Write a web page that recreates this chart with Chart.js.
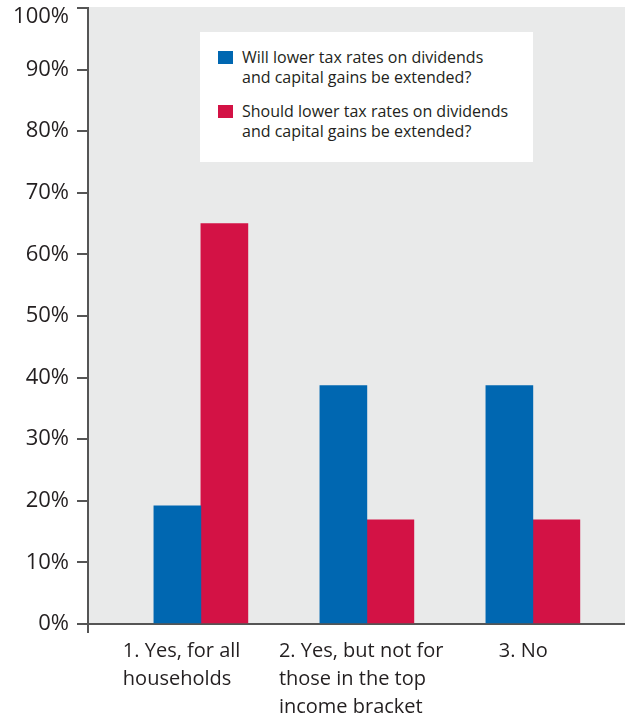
<!DOCTYPE html>
<html>
<head>
<meta charset="utf-8">
<script src="https://cdn.jsdelivr.net/npm/chart.js@4"></script>
<style>
    body { margin: 0; background: #fff; }
    #wrap { position: relative; width: 625px; height: 721px; }
    #legend {
        position: absolute; left: 200px; top: 32px; width: 333px; height: 130px;
        box-sizing: border-box; padding: 15px 0 0 18px; background: #fff;
        font-family: "Open Sans"; font-size: 16px; line-height: 20px; color: #231f20;
    }
    .item { display: flex; align-items: flex-start; margin-bottom: 14px; }
    .swatch { flex: none; width: 15px; height: 13px; margin: 4px 9px 0 0; }
</style>
</head>
<body>
<div id="wrap">
    <canvas id="grafiek"></canvas>
    <div id="legend"></div>
</div>
<script>
const categories = [
    ["1. Yes, for all", "households"],
    ["2. Yes, but not for", "those in the top", "income bracket"],
    ["3. No"]
];
const seriesNames = [
    ["Will lower tax rates on dividends", "and capital gains be extended?"],
    ["Should lower tax rates on dividends", "and capital gains be extended?"]
];
const willValues = [19.2, 38.7, 38.7];
const shouldValues = [65, 16.9, 16.9];

// where each category label starts, in x-axis units (labels sit left of the bars)
const labelStart = [0.53, 1.47, 2.795];

const kleuren = ["#0067b1", "#d31245"];
const tekstKleur = "#231f20";
const asKleur = "#555";

const plotAchtergrond = {
    id: "plotAchtergrond",
    beforeDraw(chart) {
        const { ctx, chartArea: a } = chart;
        ctx.save();
        ctx.fillStyle = "#e9eaea";
        ctx.fillRect(a.left, a.top - 1, a.right - a.left, a.bottom - a.top + 1);
        ctx.restore();
    }
};

function tekenGrafiek() {
    const canvas = document.getElementById("grafiek");

    const datasets = [willValues, shouldValues].map((waarden, s) => ({
        label: seriesNames[s].join(" "),
        data: waarden.map((v, i) => ({ x: i + 1, y: v })),
        backgroundColor: kleuren[s],
        barThickness: 47,
    }));

    new Chart(canvas, {
        type: "bar",
        data: { datasets: datasets },
        plugins: [plotAchtergrond],
        options: {
            responsive: true,
            maintainAspectRatio: false,
            animation: false,
            layout: { padding: { top: 8, right: 0, bottom: 0, left: 0 } },
            plugins: {
                legend: { display: false },
                tooltip: { enabled: false },
            },
            scales: {
                x: {
                    type: "linear",
                    min: 0.32,
                    max: 3.555,
                    offset: false,
                    z: 1,
                    afterBuildTicks: s => {
                        s.ticks = [s.min, ...labelStart].map(v => ({ value: v }));
                    },
                    afterFit: s => {
                        s.height = 97;
                        s.paddingLeft = 0;
                        s.paddingRight = 0;
                    },
                    grid: {
                        offset: false,
                        drawOnChartArea: false,
                        tickLength: 9,
                        lineWidth: 2,
                        color: c => c.index === 0 ? asKleur : "rgba(0,0,0,0)",
                    },
                    border: { color: asKleur, width: 2 },
                    ticks: {
                        align: "start",
                        padding: 4,
                        autoSkip: false,
                        maxRotation: 0,
                        minRotation: 0,
                        color: tekstKleur,
                        font: { family: "Open Sans", size: 20, lineHeight: 1.4 },
                        callback: (v, i) => i === 0 ? "" : categories[i - 1],
                    },
                },
                y: {
                    min: 0,
                    max: 100,
                    z: 1,
                    afterFit: s => {
                        s.width = 88;
                        s.paddingTop = 0;
                        s.paddingBottom = 0;
                    },
                    grid: {
                        drawOnChartArea: false,
                        tickLength: 11,
                        lineWidth: 2,
                        color: asKleur,
                    },
                    border: { color: asKleur, width: 2 },
                    ticks: {
                        stepSize: 10,
                        padding: 8,
                        color: tekstKleur,
                        // the top label sits a little under its tick, as in the original
                        font: c => ({ family: "Open Sans", size: 22, lineHeight: c.tick && c.tick.value === 100 ? 0.75 : 1.2 }),
                        callback: v => v === 100 ? ["", v + "%"] : v + "%",
                    },
                },
            },
        },
    });

    const legend = document.getElementById("legend");
    legend.innerHTML = seriesNames.map((regels, s) =>
        `<div class="item"><span class="swatch" style="background:${kleuren[s]}"></span><span>${regels.join("<br>")}</span></div>`
    ).join("");
}

window.addEventListener("load", tekenGrafiek);
</script>
</body>
</html>
